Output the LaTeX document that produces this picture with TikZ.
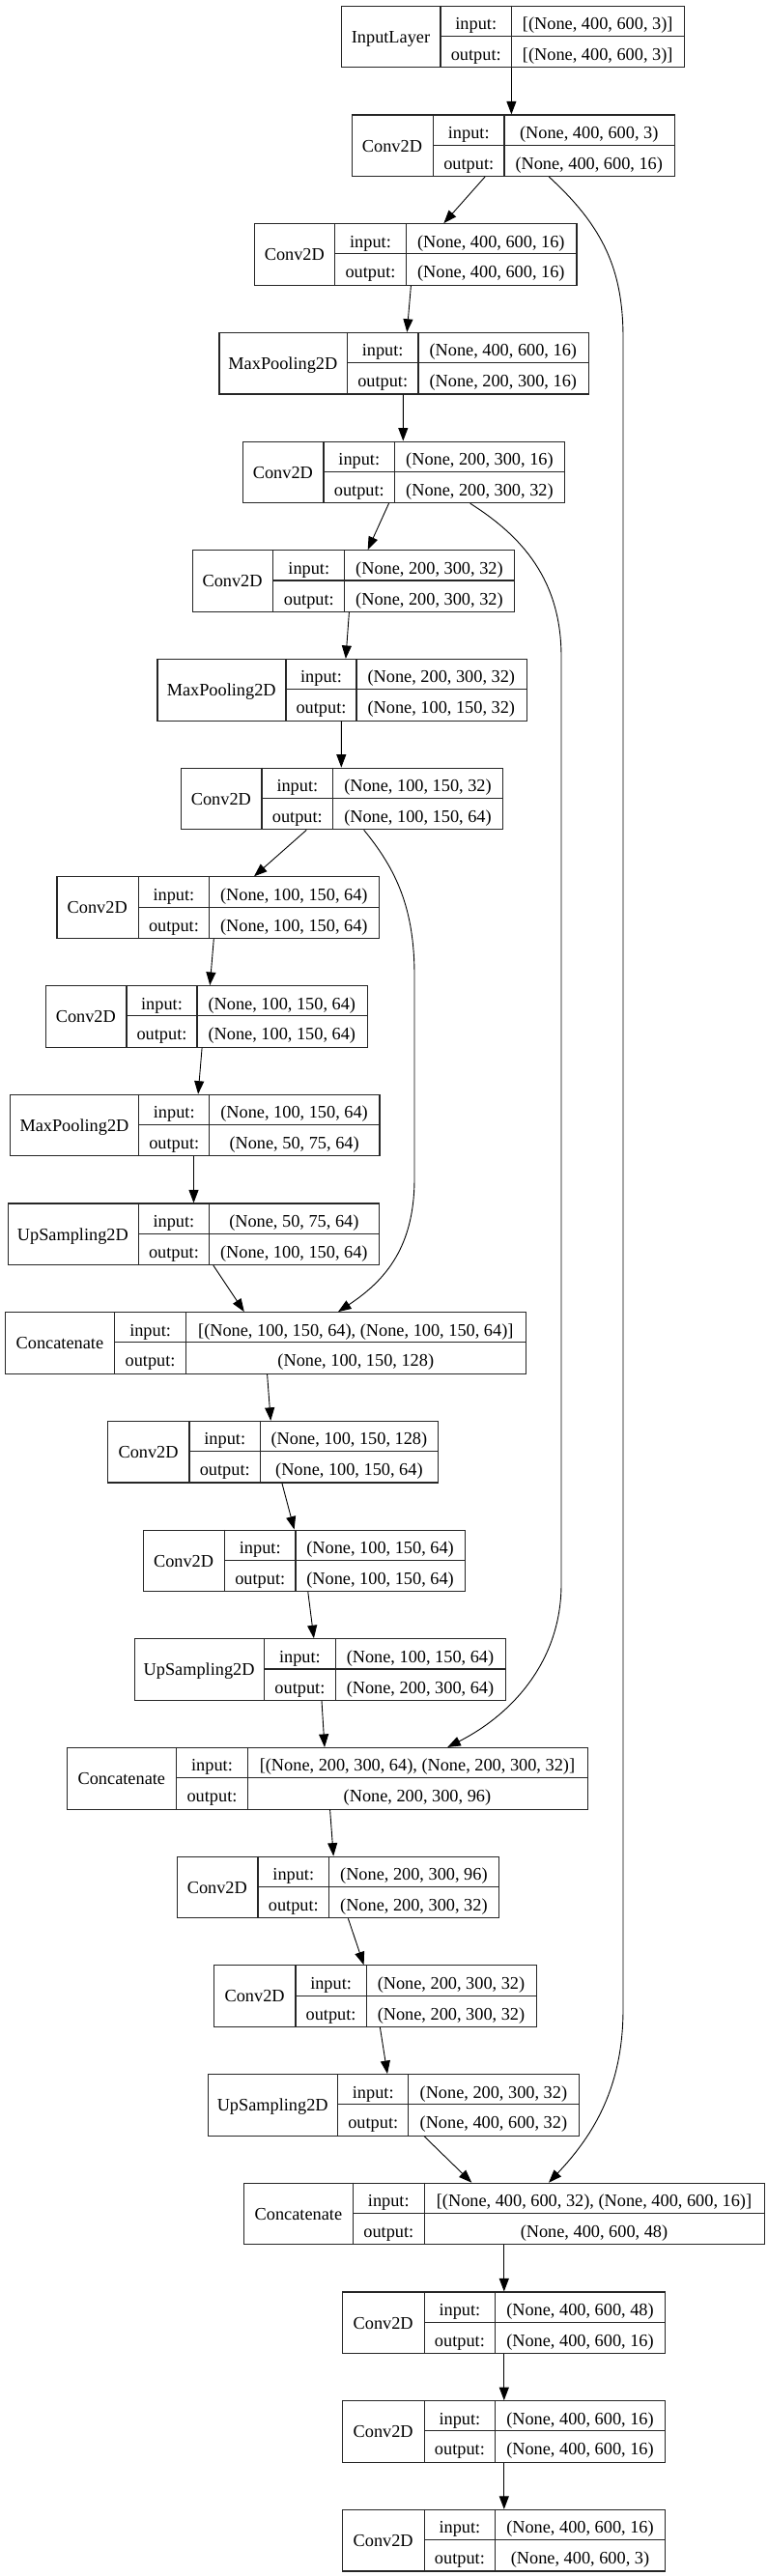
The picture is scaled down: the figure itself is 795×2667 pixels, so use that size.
\documentclass[tikz,border=0pt]{standalone}
\usepackage{fontspec}
\setmainfont{Liberation Serif}
\usetikzlibrary{arrows.meta}
\tikzset{
  lbox/.style={draw=black!85, line width=1.1pt, inner sep=0pt, minimum height=63.6pt},
  div/.style={draw=black!85, line width=1.1pt},
  txt/.style={anchor=base, inner sep=0pt, font=\fontsize{18.3pt}{20pt}\selectfont},
  edge/.style={-{Triangle[length=13.5pt,width=10pt]}, line width=0.9pt, black},
}
\newcommand\layerbox[9]{%
  \node[lbox, minimum width={(#5-#2)*1pt}, anchor=north west] (#1) at (#2,#6) {};
  \draw[div] (#3,#6) -- (#3,{#6+63.6});
  \draw[div] (#4,#6) -- (#4,{#6+63.6});
  \draw[div] (#3,{#6+31.8}) -- (#5,{#6+31.8});
  \node[txt] (#1-name) at ({(#2+#3)/2},{#6+38.6}) {#7};
  \node[txt] (#1-inl) at ({(#3+#4)/2},{#6+25}) {input:};
  \node[txt] (#1-outl) at ({(#3+#4)/2},{#6+56.8}) {output:};
  \node[txt] (#1-inv) at ({(#4+#5)/2},{#6+25}) {#8};
  \node[txt] (#1-outv) at ({(#4+#5)/2},{#6+56.8}) {#9};
}
\begin{document}
\begin{tikzpicture}[x=1pt,y=-1pt]
\useasboundingbox (0,0) rectangle (795,2667);
\layerbox{L0}{353}{456}{529.5}{708}{5.7}{InputLayer}{[(None, 400, 600, 3)]}{[(None, 400, 600, 3)]}
\layerbox{L1}{363.5}{448.5}{522}{697.5}{118.4}{Conv2D}{(None, 400, 600, 3)}{(None, 400, 600, 16)}
\layerbox{L2}{263}{346.7}{420.3}{596.4}{231.1}{Conv2D}{(None, 400, 600, 16)}{(None, 400, 600, 16)}
\layerbox{L3}{226.4}{359.4}{433}{608.6}{343.8}{MaxPooling2D}{(None, 400, 600, 16)}{(None, 200, 300, 16)}
\layerbox{L4}{250.8}{335}{408.6}{584.3}{456.5}{Conv2D}{(None, 200, 300, 16)}{(None, 200, 300, 32)}
\layerbox{L5}{198.5}{282.7}{356.9}{532}{569.2}{Conv2D}{(None, 200, 300, 32)}{(None, 200, 300, 32)}
\layerbox{L6}{162.4}{296}{369}{544.7}{681.9}{MaxPooling2D}{(None, 200, 300, 32)}{(None, 100, 150, 32)}
\layerbox{L7}{186.8}{271}{344.7}{520.3}{794.6}{Conv2D}{(None, 100, 150, 32)}{(None, 100, 150, 64)}
\layerbox{L8}{58.4}{143.1}{216.8}{391.9}{907.3}{Conv2D}{(None, 100, 150, 64)}{(None, 100, 150, 64)}
\layerbox{L9}{46.7}{131}{204}{379.7}{1020}{Conv2D}{(None, 100, 150, 64)}{(None, 100, 150, 64)}
\layerbox{L10}{10.2}{143.7}{216.8}{392.4}{1132.7}{MaxPooling2D}{(None, 100, 150, 64)}{(None, 50, 75, 64)}
\layerbox{L11}{7.6}{143.1}{216.8}{391.9}{1245.4}{UpSampling2D}{(None, 50, 75, 64)}{(None, 100, 150, 64)}
\layerbox{L12}{5}{118.8}{192.4}{544.2}{1358.1}{Concatenate}{[(None, 100, 150, 64), (None, 100, 150, 64)]}{(None, 100, 150, 128)}
\layerbox{L13}{111.2}{196}{269.5}{453.3}{1470.8}{Conv2D}{(None, 100, 150, 128)}{(None, 100, 150, 64)}
\layerbox{L14}{147.7}{232.5}{306}{481.2}{1583.5}{Conv2D}{(None, 100, 150, 64)}{(None, 100, 150, 64)}
\layerbox{L15}{138.6}{273.6}{347.2}{522.8}{1696.2}{UpSampling2D}{(None, 100, 150, 64)}{(None, 200, 300, 64)}
\layerbox{L16}{69}{182.7}{256.3}{607.6}{1808.9}{Concatenate}{[(None, 200, 300, 64), (None, 200, 300, 32)]}{(None, 200, 300, 96)}
\layerbox{L17}{182.7}{267}{340.6}{516.2}{1921.6}{Conv2D}{(None, 200, 300, 96)}{(None, 200, 300, 32)}
\layerbox{L18}{221.3}{306}{379.2}{554.8}{2034.3}{Conv2D}{(None, 200, 300, 32)}{(None, 200, 300, 32)}
\layerbox{L19}{214.7}{349.7}{422.8}{599}{2147}{UpSampling2D}{(None, 200, 300, 32)}{(None, 400, 600, 32)}
\layerbox{L20}{252.3}{365.5}{439.1}{790.9}{2259.7}{Concatenate}{[(None, 400, 600, 32), (None, 400, 600, 16)]}{(None, 400, 600, 48)}
\layerbox{L21}{354.3}{439.1}{512.7}{688.3}{2372.4}{Conv2D}{(None, 400, 600, 48)}{(None, 400, 600, 16)}
\layerbox{L22}{354.3}{439.1}{512.7}{688.3}{2485.1}{Conv2D}{(None, 400, 600, 16)}{(None, 400, 600, 16)}
\layerbox{L23}{354.3}{439.1}{512.7}{688.3}{2597.8}{Conv2D}{(None, 400, 600, 16)}{(None, 400, 600, 3)}
% straight connectors
\draw[edge] ([xshift=176.4pt]L0.south west) -- ([xshift=165.9pt]L1.north west);
\draw[edge] ([xshift=138.5pt]L1.south west) -- ([xshift=196.4pt]L2.north west);
\draw[edge] ([xshift=162.4pt]L2.south west) -- ([xshift=194.9pt]L3.north west);
\draw[edge] ([xshift=190.9pt]L3.south west) -- ([xshift=166.5pt]L4.north west);
\draw[edge] ([xshift=151.7pt]L4.south west) -- ([xshift=182.2pt]L5.north west);
\draw[edge] ([xshift=162.9pt]L5.south west) -- ([xshift=195.5pt]L6.north west);
\draw[edge] ([xshift=190.9pt]L6.south west) -- ([xshift=166.5pt]L7.north west);
\draw[edge] ([xshift=130.5pt]L7.south west) -- ([xshift=204.6pt]L8.north west);
\draw[edge] ([xshift=162.9pt]L8.south west) -- ([xshift=170.6pt]L9.north west);
\draw[edge] ([xshift=162.4pt]L9.south west) -- ([xshift=194.9pt]L10.north west);
\draw[edge] ([xshift=190.3pt]L10.south west) -- ([xshift=192.9pt]L11.north west);
\draw[edge] ([xshift=213.2pt]L11.south west) -- ([xshift=247.8pt]L12.north west);
\draw[edge] ([xshift=271.6pt]L12.south west) -- ([xshift=169pt]L13.north west);
\draw[edge] ([xshift=180.7pt]L13.south west) -- ([xshift=156.9pt]L14.north west);
\draw[edge] ([xshift=171.1pt]L14.south west) -- ([xshift=186.3pt]L15.north west);
\draw[edge] ([xshift=194.4pt]L15.south west) -- ([xshift=267pt]L16.north west);
\draw[edge] ([xshift=272.6pt]L16.south west) -- ([xshift=162.5pt]L17.north west);
\draw[edge] ([xshift=177.7pt]L17.south west) -- ([xshift=155.3pt]L18.north west);
\draw[edge] ([xshift=172.1pt]L18.south west) -- ([xshift=186.3pt]L19.north west);
\draw[edge] ([xshift=224.4pt]L19.south west) -- ([xshift=236pt]L20.north west);
\draw[edge] ([xshift=269.5pt]L20.south west) -- ([xshift=167.5pt]L21.north west);
\draw[edge] ([xshift=167.5pt]L21.south west) -- ([xshift=167.5pt]L22.north west);
\draw[edge] ([xshift=167.5pt]L22.south west) -- ([xshift=167.5pt]L23.north west);
% skip connections
\draw[edge] ([xshift=204.8pt]L1.south west) .. controls (625,235) and (645,280) .. (645,350) -- (645,2080) .. controls (645,2160) and (615,2210) .. ([xshift=315.7pt]L20.north west);
\draw[edge] ([xshift=235.9pt]L4.south west) .. controls (540,555) and (581,600) .. (581,680) -- (581,1640) .. controls (581,1720) and (530,1775) .. ([xshift=394.3pt]L16.north west);
\draw[edge] ([xshift=189.9pt]L7.south west) .. controls (410,900) and (429,940) .. (429,1010) -- (429,1220) .. controls (429,1290) and (400,1325) .. ([xshift=345pt]L12.north west);
\end{tikzpicture}
\end{document}
